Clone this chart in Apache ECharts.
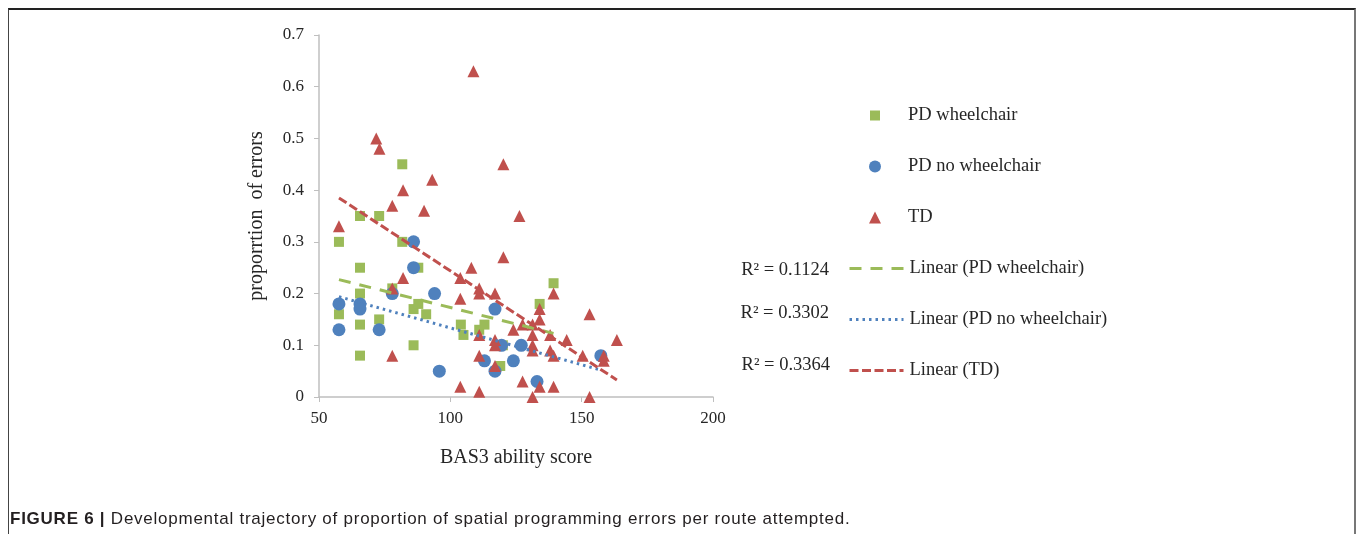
<!DOCTYPE html>
<html>
<head>
<meta charset="utf-8">
<script src="https://cdn.jsdelivr.net/npm/echarts@6/dist/echarts.min.js"></script>
<style>
  html, body { margin: 0; padding: 0; background: #fff; }
  #wrap { position: relative; width: 1357px; height: 534px; overflow: hidden; }
  #chart { position: absolute; left: 0; top: 0; width: 1357px; height: 534px; }
  #frame { position: absolute; left: 8px; top: 8px; width: 1345px; height: 540px;
           border-top: 2px solid #222; border-left: 1px solid #444; border-right: 2px solid #777; pointer-events: none; }
  #caption { position: absolute; left: 10px; top: 509px; height: 20px; line-height: 20px; white-space: nowrap;
             font-family: "Liberation Sans", Arial, sans-serif; font-size: 17px; letter-spacing: 0.75px; color: #231f20; }
  #caption b { font-weight: bold; }
</style>
</head>
<body>
<div id="wrap">
  <div id="chart"></div>
  <div id="frame"></div>
  <div id="caption"></div>
</div>
<script>
// ---- data ----
const seriesNames = ['PD wheelchair', 'PD no wheelchair', 'TD'];
const trendNames = ['Linear (PD wheelchair)', 'Linear (PD no wheelchair)', 'Linear (TD)'];
const rSquared = ['R² = 0.1124', 'R² = 0.3302', 'R² = 0.3364'];
const xTicks = [50, 100, 150, 200];
const yTicks = [0, 0.1, 0.2, 0.3, 0.4, 0.5, 0.6, 0.7];

const pdWheelchair = [
  [57.6,0.30],[57.6,0.16],[65.6,0.35],[65.6,0.25],[65.6,0.20],[65.6,0.14],[65.6,0.08],
  [72.9,0.35],[72.9,0.15],[77.9,0.21],[81.7,0.45],[81.7,0.30],[86,0.17],[86,0.10],
  [87.8,0.25],[87.8,0.18],[90.8,0.16],[104,0.14],[105,0.12],[111,0.13],[113,0.14],
  [119,0.06],[120,0.10],[134,0.18],[139.3,0.22]
];
const pdNoWheelchair = [
  [57.6,0.18],[57.6,0.13],[65.6,0.18],[65.6,0.17],[72.9,0.13],[77.9,0.20],[86,0.30],
  [86,0.25],[94,0.20],[95.8,0.05],[113,0.07],[117,0.17],[117,0.05],[119.5,0.10],
  [124,0.07],[127,0.10],[133,0.03],[157.3,0.08]
];
const td = [
  [57.6,0.33],[71.8,0.50],[73,0.48],[77.9,0.37],[77.9,0.21],[77.9,0.08],[82,0.40],
  [82,0.23],[90,0.36],[93.1,0.42],[103.8,0.23],[103.8,0.19],[103.8,0.02],[108,0.25],
  [108.8,0.63],[111,0.21],[111,0.20],[111,0.12],[111,0.08],[111,0.01],[117,0.20],
  [117,0.11],[117,0.10],[117,0.06],[120.2,0.45],[120.2,0.27],[124,0.13],[126.3,0.35],
  [127.5,0.14],[127.5,0.03],[131.3,0.14],[131.3,0.12],[131.3,0.10],[131.3,0.09],[131.3,0.0],
  [134,0.17],[134,0.15],[134,0.02],[138,0.12],[138,0.09],[139.3,0.20],[139.3,0.08],
  [139.3,0.02],[144.3,0.11],[150.4,0.08],[153,0.16],[153,0.0],[158.4,0.08],[158.4,0.07],
  [163.4,0.11]
];
const trendWheelchair = [[57.6,0.227],[139.3,0.123]];
const trendNoWheelchair = [[57.6,0.194],[157.3,0.052]];
const trendTD = [[57.6,0.385],[163.4,0.033]];

const captionBold = 'FIGURE 6 |';
const captionText = ' Developmental trajectory of proportion of spatial programming errors per route attempted.';

// ---- styles ----
const GREEN = '#9BBB59', BLUE = '#4F81BD', RED = '#C0504D';
const SERIF = '"Liberation Serif", "Times New Roman", serif';
const TXT = '#262626';
const LEG_FS = 18.5;

const cap = document.getElementById('caption');
const bEl = document.createElement('b'); bEl.textContent = captionBold;
cap.appendChild(bEl); cap.appendChild(document.createTextNode(captionText));

function markerLegend(name, left, top, size, pad) {
  return {
    orient: 'vertical', left: left, top: top, padding: 0, itemWidth: size, itemHeight: size,
    data: [name], selectedMode: false,
    itemStyle: { opacity: 1 },
    textStyle: { fontFamily: SERIF, fontSize: LEG_FS, color: TXT, padding: [0, 0, 0, pad] }
  };
}

const chart = echarts.init(document.getElementById('chart'));
chart.setOption({
  animation: false,
  backgroundColor: 'transparent',
  grid: { left: 319, top: 35, width: 394, height: 362 },
  xAxis: {
    type: 'value', min: xTicks[0], max: xTicks[xTicks.length - 1], interval: 50,
    name: 'BAS3 ability score', nameLocation: 'middle', nameGap: 51,
    nameTextStyle: { fontFamily: SERIF, fontSize: 20, color: TXT },
    axisLine: { show: true, lineStyle: { color: '#BFBFBF', width: 1.5 } },
    axisTick: { show: true, length: 5, lineStyle: { color: '#BFBFBF' } },
    axisLabel: { fontFamily: SERIF, fontSize: 17, color: TXT, margin: 13 },
    splitLine: { show: false }
  },
  yAxis: {
    type: 'value', min: yTicks[0], max: yTicks[yTicks.length - 1], interval: 0.1,
    name: 'proporrtion  of errors', nameLocation: 'middle', nameGap: 52,
    nameTextStyle: { fontFamily: SERIF, fontSize: 20, color: TXT },
    axisLine: { show: true, lineStyle: { color: '#BFBFBF', width: 1.5 } },
    axisTick: { show: true, length: 5, lineStyle: { color: '#BFBFBF' } },
    axisLabel: { fontFamily: SERIF, fontSize: 17, color: TXT, margin: 15,
                 formatter: v => (Math.round(v * 10) / 10).toString() },
    splitLine: { show: false }
  },
  legend: [
    markerLegend(seriesNames[0], 870, 106, 10, 23),
    markerLegend(seriesNames[1], 869, 157, 12, 22),
    markerLegend(seriesNames[2], 869, 208, 12, 22),
    {
      orient: 'vertical', left: 848, top: 259, padding: 0, itemWidth: 54, itemHeight: 14, itemGap: 32,
      data: trendNames, selectedMode: false,
      itemStyle: { opacity: 0, color: 'transparent', borderWidth: 0 },
      lineStyle: { width: 3 },
      textStyle: { fontFamily: SERIF, fontSize: LEG_FS, color: TXT, padding: [0, 0, 0, 1] }
    }
  ],
  graphic: [
    { type: 'text', x: 829, y: 270, style: { text: rSquared[0], align: 'right', verticalAlign: 'middle', font: LEG_FS + 'px ' + SERIF, fill: TXT } },
    { type: 'text', x: 829, y: 313, style: { text: rSquared[1], align: 'right', verticalAlign: 'middle', font: LEG_FS + 'px ' + SERIF, fill: TXT } },
    { type: 'text', x: 830, y: 365, style: { text: rSquared[2], align: 'right', verticalAlign: 'middle', font: LEG_FS + 'px ' + SERIF, fill: TXT } }
  ],
  series: [
    { name: seriesNames[0], type: 'scatter', data: pdWheelchair, symbol: 'rect', symbolSize: 10,
      itemStyle: { color: GREEN, opacity: 1 }, z: 2 },
    { name: seriesNames[1], type: 'scatter', data: pdNoWheelchair, symbol: 'circle', symbolSize: 13,
      itemStyle: { color: BLUE, opacity: 1 }, z: 3 },
    { name: seriesNames[2], type: 'scatter', data: td, symbol: 'triangle', symbolSize: [12, 12],
      itemStyle: { color: RED, opacity: 1 }, z: 4 },
    { name: trendNames[0], type: 'line', data: trendWheelchair, symbol: 'none', z: 5,
      lineStyle: { color: GREEN, width: 3, type: [12, 9] }, itemStyle: { color: GREEN } },
    { name: trendNames[1], type: 'line', data: trendNoWheelchair, symbol: 'none', z: 5,
      lineStyle: { color: BLUE, width: 3, type: [2.5, 4] }, itemStyle: { color: BLUE } },
    { name: trendNames[2], type: 'line', data: trendTD, symbol: 'none', z: 5,
      lineStyle: { color: RED, width: 3, type: [9, 3.5] }, itemStyle: { color: RED } }
  ]
});
</script>
</body>
</html>
